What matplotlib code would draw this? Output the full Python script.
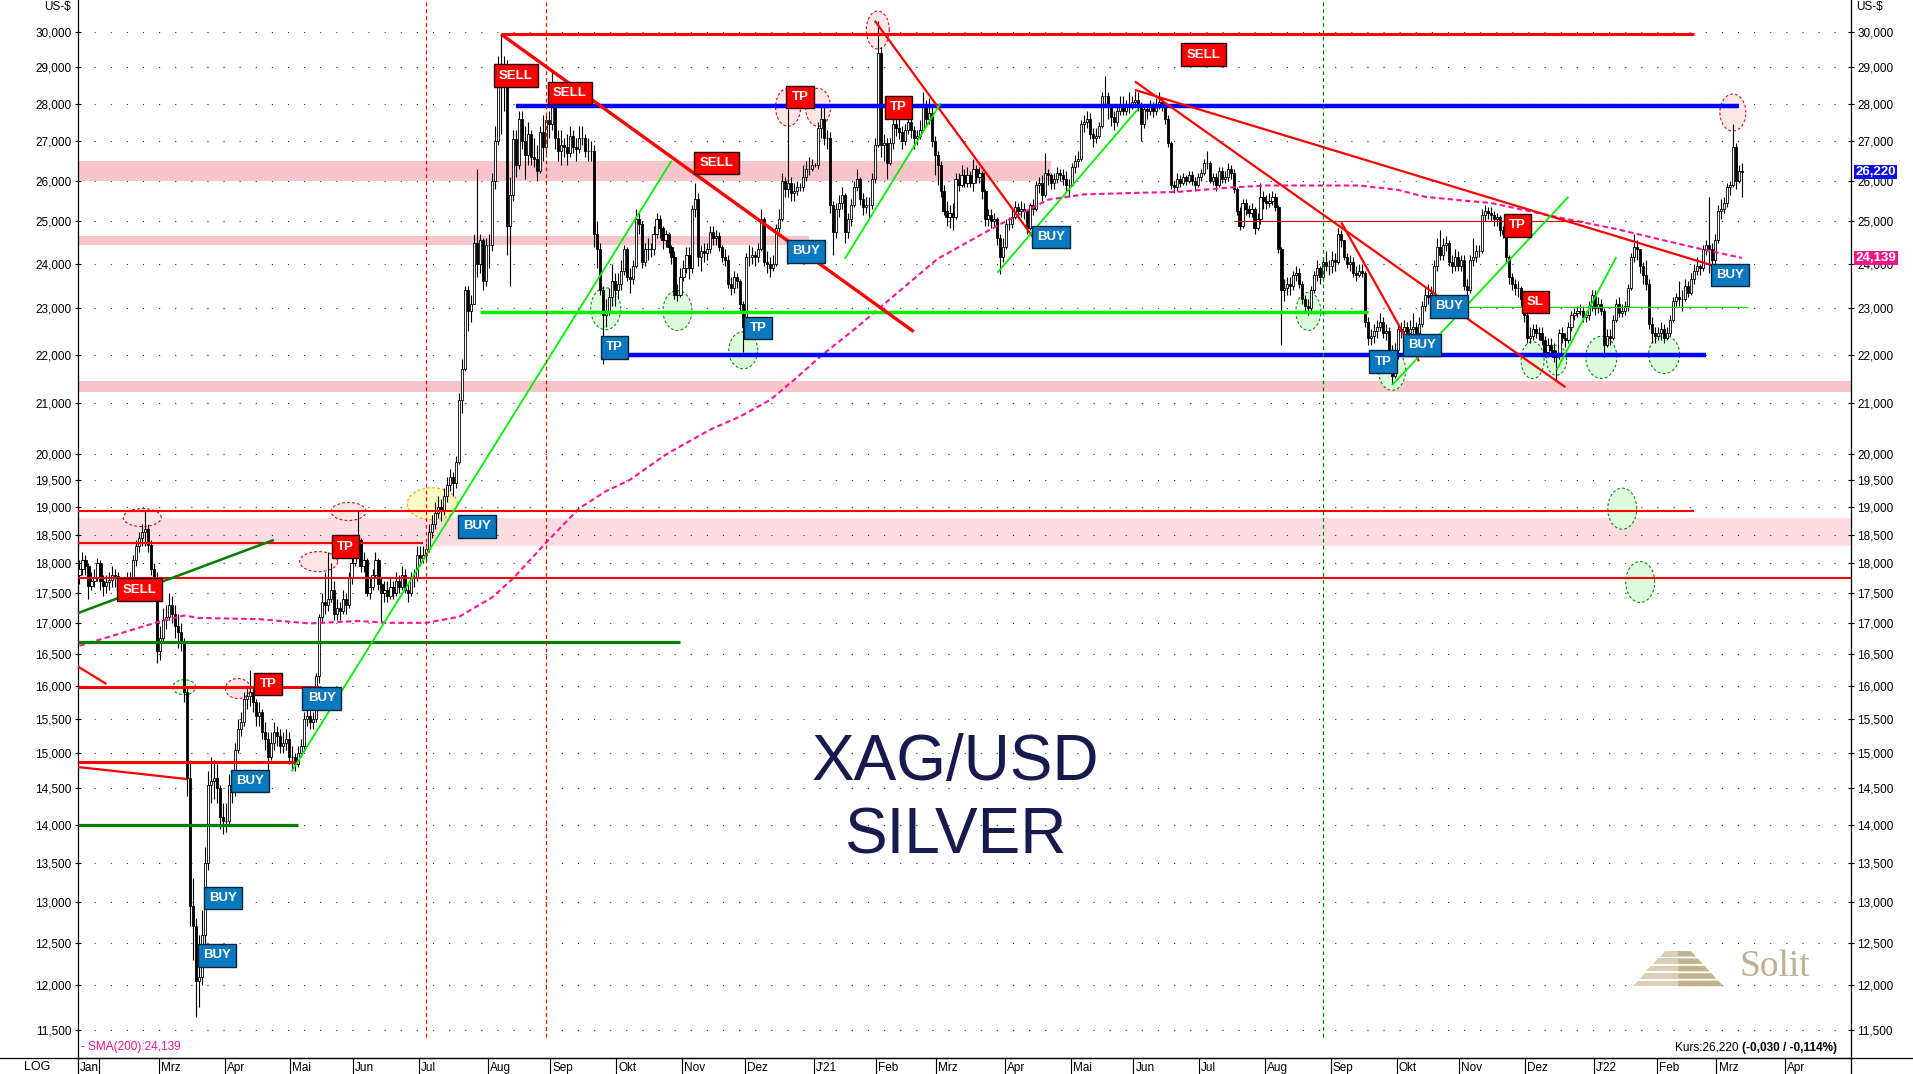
import numpy as np
import pandas as pd
import matplotlib
matplotlib.use("Agg")
import matplotlib.pyplot as plt
import matplotlib.transforms as mtransforms
from matplotlib.patches import Polygon
from matplotlib.lines import Line2D

plt.rcParams['font.family'] = ['Liberation Sans', 'DejaVu Sans']

# ---------------- data: daily XAG/USD (open = previous close) ----------------
first_day = '2020-01-23'
open_first = 17.80

close_2020 = [
    17.90, 18.05, 17.95, 17.62, 17.70, 17.75, 18.00,
    17.70, 17.62, 17.68, 17.72, 17.80, 17.78, 17.62, 17.58, 17.62, 17.72, 17.75, 18.05, 18.30, 18.45, 18.55, 18.60, 18.32, 17.90, 17.75, 16.55,
    16.75, 17.05, 17.10, 17.30, 17.15, 16.95, 16.85, 16.70, 15.90, 14.65, 12.95, 12.70, 12.05, 12.10, 12.60, 13.50, 14.55, 14.60, 14.65, 14.50, 14.10, 14.05,
    14.05, 14.55, 14.45, 15.05, 15.35, 15.45, 15.80, 15.85, 15.90, 15.75, 15.55, 15.60, 15.30, 15.20, 14.95, 15.15, 15.30, 15.25, 15.10, 15.15, 15.20, 14.95,
    14.95, 14.85, 15.00, 15.10, 15.50, 15.55, 15.45, 15.50, 16.15, 17.10, 17.35, 17.30, 17.40, 17.55, 17.15, 17.25, 17.20, 17.40, 17.30, 17.75, 18.00,
    18.35, 18.40, 17.95, 18.05, 17.50, 17.60, 17.80, 18.05, 17.65, 17.50, 17.55, 17.45, 17.60, 17.50, 17.70, 17.60, 17.80, 17.55, 17.50, 17.75, 17.75, 18.15,
    18.10, 18.15, 18.25, 18.55, 18.70, 18.90, 19.00, 18.95, 19.20, 19.40, 19.55, 19.45, 19.85, 21.05, 21.70, 23.40, 22.95, 23.10, 24.50, 24.00, 24.55, 23.60, 24.45,
    24.45, 26.00, 27.00, 28.95, 28.55, 28.75, 24.90, 25.65, 27.05, 26.40, 27.60, 27.00, 26.65, 27.20, 26.60, 26.55, 26.25, 27.25, 26.85, 27.55, 27.45,
    28.10, 27.10, 26.75, 26.90, 26.85, 26.70, 27.15, 26.85, 26.80, 27.10, 27.10, 26.75, 26.75, 26.75, 24.70, 24.35, 23.40, 22.85, 22.95, 23.25, 23.60, 23.40,
    23.55, 23.85, 24.35, 23.70, 23.65, 23.95, 25.05, 24.95, 24.05, 24.35, 24.35, 24.35, 24.70, 25.05, 24.85, 24.55, 24.70, 24.40, 24.15, 23.30, 23.30, 23.70,
    23.90, 24.20, 23.90, 25.30, 25.55, 24.15, 24.30, 24.25, 24.35, 24.75, 24.60, 24.65, 24.40, 24.15, 24.10, 23.55, 23.45, 23.70, 23.60, 23.10, 22.60,
    24.15, 24.15, 24.20, 24.15, 24.35, 25.05, 24.05, 24.00, 23.90, 24.00, 24.85, 25.05, 26.00, 25.80, 25.95, 25.70, 25.75, 25.85, 25.85, 26.10, 26.30, 26.30, 26.40,
]
high_2020 = [
    18.05, 18.20, 18.15, 18.00, 17.85, 17.90, 18.10,
    18.05, 17.80, 17.80, 17.85, 17.95, 17.90, 17.85, 17.70, 17.75, 17.85, 17.85, 18.15, 18.40, 18.55, 18.70, 18.92, 18.70, 18.40, 18.00, 17.85,
    16.95, 17.25, 17.30, 17.50, 17.45, 17.30, 17.15, 17.00, 16.75, 16.00, 14.90, 13.30, 12.80, 12.60, 12.90, 13.70, 14.75, 14.95, 14.90, 14.85, 14.55, 14.30,
    14.30, 14.70, 14.65, 15.15, 15.50, 15.60, 15.90, 16.00, 16.25, 16.00, 15.80, 15.75, 15.65, 15.45, 15.30, 15.30, 15.45, 15.40, 15.35, 15.30, 15.35, 15.30,
    15.10, 15.00, 15.10, 15.20, 15.60, 15.70, 15.65, 15.60, 16.20, 17.15, 17.50, 17.85, 18.20, 18.00, 17.70, 17.40, 17.35, 17.55, 17.50, 17.85, 18.30,
    18.50, 18.94, 18.45, 18.20, 18.10, 17.75, 17.90, 18.20, 18.10, 17.75, 17.70, 17.70, 17.75, 17.70, 17.85, 17.80, 17.95, 17.90, 17.65, 17.85, 17.90, 18.30,
    18.30, 18.30, 18.35, 18.70, 18.85, 19.10, 19.20, 19.15, 19.35, 19.55, 19.70, 19.65, 19.95, 21.20, 21.90, 23.50, 23.50, 23.30, 24.70, 26.30, 24.70, 24.60, 24.60,
    24.70, 26.20, 27.40, 29.30, 29.93, 29.30, 29.20, 26.10, 27.30, 27.30, 27.80, 27.80, 27.40, 27.50, 27.30, 27.10, 26.90, 27.40, 27.70, 27.70, 27.80,
    28.90, 28.20, 27.30, 27.30, 27.10, 27.20, 27.40, 27.30, 27.10, 27.40, 27.40, 27.20, 27.10, 27.00, 26.90, 25.00, 24.50, 23.50, 23.20, 23.45, 24.00, 23.80,
    23.80, 24.10, 24.45, 24.40, 23.90, 24.10, 25.30, 25.25, 25.00, 24.50, 24.60, 24.50, 24.90, 25.20, 25.15, 24.90, 24.80, 24.75, 24.45, 24.30, 23.55, 23.90,
    24.10, 24.40, 24.40, 25.40, 25.95, 25.70, 24.45, 24.50, 24.50, 24.90, 24.90, 24.80, 24.75, 24.45, 24.35, 24.20, 23.70, 23.85, 23.80, 23.65, 23.15,
    24.25, 24.45, 24.40, 24.30, 24.50, 25.30, 25.10, 24.30, 24.15, 24.20, 24.95, 25.30, 26.20, 26.10, 27.85, 26.10, 25.95, 26.00, 25.95, 26.40, 26.50, 26.60, 26.55,
]
low_2020 = [
    17.65, 17.80, 17.80, 17.40, 17.55, 17.60, 17.70,
    17.55, 17.45, 17.50, 17.55, 17.60, 17.60, 17.50, 17.45, 17.45, 17.55, 17.60, 17.70, 17.95, 18.20, 18.30, 18.30, 18.20, 17.80, 17.55, 16.35,
    16.40, 16.70, 16.90, 17.05, 17.00, 16.75, 16.60, 16.55, 15.75, 14.40, 12.70, 12.30, 11.64, 11.75, 12.00, 12.45, 13.40, 14.30, 14.35, 14.30, 13.95, 13.88,
    13.90, 14.00, 14.30, 14.40, 15.00, 15.25, 15.40, 15.65, 15.70, 15.60, 15.40, 15.40, 15.20, 15.05, 14.75, 14.90, 15.05, 15.10, 15.00, 15.00, 15.05, 14.85,
    14.75, 14.75, 14.80, 14.95, 15.05, 15.40, 15.35, 15.35, 15.45, 16.05, 17.00, 17.15, 17.20, 17.35, 17.05, 17.05, 17.05, 17.15, 17.15, 17.25, 17.65,
    17.95, 18.20, 17.85, 17.85, 17.45, 17.40, 17.55, 17.75, 17.55, 17.00, 17.35, 17.35, 17.40, 17.40, 17.45, 17.50, 17.55, 17.50, 17.35, 17.45, 17.60, 17.70,
    17.95, 18.00, 18.05, 18.20, 18.45, 18.60, 18.80, 18.75, 18.85, 19.10, 19.30, 19.20, 19.35, 19.80, 20.80, 21.65, 22.50, 22.70, 23.10, 23.70, 23.80, 23.40, 23.50,
    23.90, 24.30, 25.80, 26.90, 27.20, 27.80, 24.20, 23.50, 25.50, 26.10, 26.30, 26.80, 26.05, 26.40, 26.40, 26.35, 26.00, 26.20, 26.50, 26.70, 27.10,
    27.30, 26.80, 26.50, 26.40, 26.60, 26.40, 26.60, 26.70, 26.50, 26.70, 26.90, 26.60, 26.50, 26.50, 24.40, 23.90, 23.30, 21.80, 22.60, 22.85, 23.05, 23.05,
    23.20, 23.40, 23.75, 23.60, 23.35, 23.55, 23.90, 24.70, 23.90, 23.95, 24.10, 24.15, 24.20, 24.60, 24.60, 24.35, 24.40, 24.25, 24.00, 23.20, 23.15, 23.25,
    23.60, 23.80, 23.65, 23.80, 25.10, 23.95, 23.85, 24.05, 24.10, 24.25, 24.45, 24.45, 24.30, 24.05, 23.95, 23.45, 23.30, 23.35, 23.45, 22.95, 22.05,
    22.50, 23.95, 24.00, 23.95, 24.05, 24.30, 23.95, 23.80, 23.70, 23.85, 23.95, 24.75, 25.00, 25.60, 25.60, 25.50, 25.50, 25.65, 25.75, 25.75, 26.00, 26.15, 26.25,
]
close_2021 = [
    26.40, 27.35, 27.60, 27.10, 27.10, 25.40, 24.75, 25.30, 25.45, 25.65, 24.75, 25.05, 25.40, 25.85, 26.05, 25.55, 25.35, 25.40, 25.40, 26.05, 26.90,
    29.40, 26.90, 26.95, 26.45, 26.95, 27.45, 27.35, 27.25, 27.00, 27.30, 27.50, 27.30, 27.10, 27.15, 27.30, 28.00, 27.60, 27.75, 27.00, 26.65,
    26.40, 25.75, 25.25, 25.10, 25.20, 25.10, 26.05, 25.90, 26.15, 25.95, 26.15, 25.95, 26.30, 26.10, 26.20, 25.75, 25.05, 25.15, 25.00, 25.05, 24.60, 24.15, 24.40,
    24.95, 24.95, 25.10, 25.35, 25.25, 25.30, 25.25, 24.85, 25.40, 25.30, 25.90, 25.95, 25.65, 26.20, 26.15, 25.95, 26.05, 26.20, 26.15, 26.05, 25.90, 25.90,
    26.35, 26.50, 26.55, 27.45, 27.50, 27.60, 27.20, 27.10, 27.15, 27.40, 28.20, 28.20, 27.90, 27.65, 27.50, 27.80, 28.00, 27.80, 27.95, 27.95, 28.05,
    28.10, 27.95, 27.45, 27.85, 27.80, 27.95, 27.80, 28.00, 28.05, 27.95, 27.60, 26.95, 25.90, 25.85, 26.05, 25.95, 26.10, 26.00, 26.15, 26.00, 25.90, 26.10,
    26.20, 26.45, 26.45, 26.00, 26.10, 25.90, 26.25, 26.05, 26.10, 26.30, 26.20, 25.80, 25.25, 24.90, 25.45, 25.30, 25.20, 25.30, 24.85, 25.05, 25.60, 25.50,
    25.45, 25.50, 25.60, 25.35, 24.35, 23.40, 23.45, 23.55, 23.50, 23.75, 23.80, 23.55, 23.20, 23.05, 23.00, 23.40, 23.75, 23.90, 23.70, 24.05, 23.95, 23.95,
    24.10, 24.05, 24.70, 24.55, 24.15, 24.00, 24.05, 23.80, 23.75, 23.85, 23.80, 22.70, 22.35, 22.40, 22.50, 22.60, 22.70, 22.45, 22.50, 22.10, 21.55, 22.10,
    22.55, 22.50, 22.60, 22.45, 22.55, 22.60, 22.45, 22.65, 23.05, 23.30, 23.25, 23.35, 23.95, 24.40, 24.20, 24.45, 24.50, 24.05, 23.95, 24.15, 23.95,
    24.10, 23.50, 23.40, 24.10, 24.15, 24.30, 24.30, 25.15, 25.25, 25.20, 25.15, 25.05, 25.10, 24.80, 24.70, 24.15, 23.70, 23.55, 23.45, 23.45, 23.20, 22.85,
    22.35, 22.40, 22.55, 22.45, 22.45, 22.30, 22.05, 22.20, 22.10, 21.95, 22.00, 22.45, 22.35, 22.30, 22.60, 22.85, 22.90, 22.95, 22.95, 22.80, 22.85, 23.05, 23.30,
]
high_2021 = [
    26.45, 27.50, 27.90, 27.95, 27.30, 27.25, 25.50, 25.45, 25.65, 25.85, 25.70, 25.20, 25.55, 26.00, 26.30, 26.10, 25.70, 25.60, 25.60, 26.20, 27.10,
    30.30, 29.55, 27.20, 27.10, 27.10, 27.60, 27.70, 27.60, 27.40, 27.45, 27.75, 27.65, 27.40, 27.30, 27.55, 28.30, 28.10, 28.15, 28.00, 27.15,
    26.75, 26.50, 25.90, 25.50, 25.40, 25.45, 26.20, 26.20, 26.40, 26.30, 26.35, 26.25, 26.55, 26.40, 26.35, 26.25, 25.80, 25.30, 25.30, 25.20, 25.10, 24.70, 24.60,
    25.05, 25.10, 25.30, 25.50, 25.45, 25.50, 25.45, 25.30, 25.45, 25.55, 26.00, 26.10, 26.15, 26.70, 26.30, 26.20, 26.20, 26.35, 26.30, 26.30, 26.25, 26.05,
    26.45, 26.65, 26.75, 27.55, 27.70, 27.80, 27.75, 27.35, 27.35, 27.50, 28.30, 28.75, 28.30, 28.00, 27.80, 27.95, 28.20, 28.20, 28.10, 28.30, 28.20,
    28.35, 28.30, 28.05, 27.95, 28.00, 28.10, 28.05, 28.15, 28.30, 28.15, 28.00, 27.70, 27.00, 26.00, 26.20, 26.15, 26.20, 26.15, 26.25, 26.25, 26.10, 26.20,
    26.30, 26.55, 26.75, 26.50, 26.20, 26.20, 26.35, 26.35, 26.25, 26.45, 26.40, 26.30, 25.85, 25.35, 25.55, 25.55, 25.40, 25.45, 25.35, 25.20, 25.95, 25.75,
    25.65, 25.70, 25.75, 25.70, 25.40, 24.40, 23.65, 23.70, 23.70, 23.85, 23.95, 23.90, 23.60, 23.30, 23.20, 23.50, 23.85, 24.10, 23.95, 24.15, 24.30, 24.10,
    24.30, 24.25, 24.85, 24.80, 24.55, 24.25, 24.20, 24.15, 23.95, 24.00, 24.00, 23.85, 22.80, 22.55, 22.65, 22.75, 22.90, 22.80, 22.65, 22.60, 22.20, 22.25,
    22.65, 22.70, 22.75, 22.70, 22.75, 22.90, 22.70, 22.80, 23.15, 23.45, 23.55, 23.50, 24.10, 24.60, 24.80, 24.60, 24.65, 24.55, 24.20, 24.35, 24.30,
    24.20, 24.20, 23.65, 24.20, 24.60, 24.45, 24.45, 25.30, 25.40, 25.35, 25.35, 25.25, 25.20, 25.15, 24.90, 24.75, 24.20, 23.80, 23.65, 23.60, 23.50, 23.35,
    23.00, 22.60, 22.65, 22.65, 22.60, 22.60, 22.40, 22.35, 22.35, 22.25, 22.10, 22.55, 22.60, 22.45, 22.70, 22.95, 23.00, 23.05, 23.10, 23.05, 22.95, 23.15, 23.40,
]
low_2021 = [
    26.35, 26.30, 27.10, 26.90, 26.80, 25.20, 24.20, 24.60, 25.10, 25.30, 24.50, 24.60, 24.90, 25.35, 25.75, 25.40, 25.15, 25.20, 25.10, 25.30, 25.95,
    26.85, 26.60, 26.50, 26.05, 26.40, 26.80, 27.15, 27.05, 26.80, 26.90, 27.20, 27.10, 26.80, 26.90, 27.05, 27.25, 27.40, 27.45, 26.85, 26.15,
    25.90, 25.60, 25.15, 24.90, 24.85, 24.80, 25.05, 25.75, 25.85, 25.85, 25.85, 25.85, 25.75, 25.95, 25.95, 25.55, 24.90, 24.90, 24.85, 24.90, 24.45, 23.78, 24.05,
    24.35, 24.80, 24.85, 25.05, 25.10, 25.10, 25.05, 24.70, 24.80, 25.15, 25.25, 25.70, 25.50, 25.60, 25.90, 25.80, 25.80, 25.95, 26.00, 25.90, 25.75, 25.60,
    25.90, 26.20, 26.35, 26.50, 27.25, 27.35, 27.05, 26.85, 26.95, 27.10, 27.35, 27.90, 27.60, 27.40, 27.30, 27.40, 27.70, 27.70, 27.70, 27.75, 27.85,
    27.90, 27.80, 27.00, 27.35, 27.60, 27.70, 27.65, 27.70, 27.85, 27.80, 27.45, 26.85, 25.80, 25.70, 25.75, 25.85, 25.90, 25.90, 25.95, 25.90, 25.75, 25.85,
    26.00, 26.15, 26.30, 25.95, 25.90, 25.75, 25.85, 25.95, 25.95, 26.00, 26.05, 25.70, 25.15, 24.80, 24.85, 25.15, 25.10, 25.10, 24.70, 24.80, 24.95, 25.30,
    25.30, 25.35, 25.40, 25.25, 24.25, 22.20, 23.15, 23.30, 23.30, 23.40, 23.60, 23.45, 23.10, 22.95, 22.85, 22.95, 23.35, 23.60, 23.55, 23.60, 23.85, 23.75,
    23.80, 23.85, 24.00, 24.40, 24.10, 23.90, 23.85, 23.70, 23.60, 23.70, 23.70, 22.60, 22.20, 22.20, 22.25, 22.35, 22.50, 22.35, 22.30, 22.00, 21.40, 21.50,
    21.90, 22.35, 22.40, 22.30, 22.35, 22.40, 22.25, 22.40, 22.60, 22.95, 23.10, 23.10, 23.30, 23.85, 24.10, 24.10, 24.30, 23.95, 23.80, 23.85, 23.85,
    23.85, 23.40, 23.00, 23.35, 23.95, 24.05, 24.15, 24.25, 25.00, 25.05, 25.00, 24.90, 24.90, 24.65, 24.60, 24.05, 23.55, 23.40, 23.30, 23.25, 23.05, 22.70,
    22.25, 22.25, 22.30, 22.35, 22.30, 22.20, 21.95, 21.95, 22.00, 21.85, 21.45, 21.90, 22.25, 22.15, 22.25, 22.50, 22.75, 22.80, 22.85, 22.70, 22.70, 22.75, 22.95,
]
close_2022 = [
    23.00, 23.10, 22.95, 22.20, 22.40, 22.35, 22.75, 23.10, 22.90, 22.95, 23.05, 23.45, 24.15, 24.40, 24.35, 23.95, 23.75, 23.55, 22.65, 22.45, 22.40,
    22.45, 22.55, 22.35, 22.45, 22.75, 23.15, 23.25, 23.20, 23.20, 23.50, 23.35, 23.65, 23.85, 23.95, 23.90, 24.35, 24.45, 24.35, 24.10, 24.55,
    25.25, 25.30, 25.45, 25.85, 25.90, 26.85, 26.00, 26.25, 26.22,
]
high_2022 = [
    23.40, 23.25, 23.20, 23.00, 22.55, 22.55, 22.85, 23.20, 23.25, 23.10, 23.15, 23.55, 24.25, 24.70, 24.55, 24.30, 24.05, 24.10, 23.65, 22.80, 22.60,
    22.60, 22.70, 22.65, 22.60, 22.85, 23.25, 23.35, 23.60, 23.40, 23.65, 23.60, 23.80, 24.00, 24.15, 24.00, 24.45, 24.55, 25.60, 24.50, 24.70,
    25.40, 25.55, 25.60, 25.95, 26.00, 27.45, 26.95, 26.40, 26.45,
]
low_2022 = [
    22.85, 22.90, 22.85, 21.95, 22.15, 22.20, 22.30, 22.70, 22.80, 22.80, 22.85, 22.95, 23.40, 24.05, 24.10, 23.80, 23.55, 23.40, 22.55, 22.25, 22.25,
    22.30, 22.30, 22.25, 22.30, 22.40, 22.70, 23.05, 23.05, 22.95, 23.15, 23.25, 23.30, 23.55, 23.75, 23.75, 23.85, 24.20, 23.80, 23.90, 24.00,
    24.50, 25.05, 25.20, 25.35, 25.65, 25.85, 25.80, 25.95, 25.60,
]

# SMA(200)
sma_dates = ['2020-01-23', '2020-02-28', '2020-03-12', '2020-03-19', '2020-04-16', '2020-05-11', '2020-06-02',
             '2020-06-17', '2020-07-03', '2020-07-20', '2020-08-04', '2020-08-13', '2020-08-28', '2020-09-14',
             '2020-09-25', '2020-10-07', '2020-10-23', '2020-11-13', '2020-11-27', '2020-12-11', '2020-12-23',
             '2021-01-05', '2021-01-20', '2021-02-02', '2021-03-01', '2021-03-29', '2021-04-21', '2021-05-07',
             '2021-06-03', '2021-06-21', '2021-07-15', '2021-08-02', '2021-08-17', '2021-09-14', '2021-10-01',
             '2021-10-14', '2021-11-03', '2021-11-15', '2021-12-21', '2022-01-12', '2022-02-16', '2022-03-11']
sma_values = [16.63, 17.01, 17.12, 17.08, 17.06, 16.99, 17.03, 17.00, 17.00, 17.10, 17.42, 17.74, 18.36, 18.97,
              19.29, 19.50, 19.98, 20.47, 20.73, 21.06, 21.47, 21.97, 22.53, 23.03, 24.12, 24.90, 25.53, 25.66,
              25.70, 25.72, 25.83, 25.88, 25.88, 25.88, 25.77, 25.60, 25.50, 25.45, 25.05, 24.82, 24.40, 24.14]

last_price = 26.220
sma_last = 24.139

y_ticks = [11.5, 12, 12.5, 13, 13.5, 14, 14.5, 15, 15.5, 16, 16.5, 17, 17.5, 18, 18.5, 19, 19.5,
           20, 21, 22, 23, 24, 25, 26, 27, 28, 29, 30]
month_names = ['Jan', 'Feb', 'Mrz', 'Apr', 'Mai', 'Jun', 'Jul', 'Aug', 'Sep', 'Okt', 'Nov', 'Dez']

# annotation levels: (price, start, end) ; None = chart edge
red_levels_thick = [(29.93, '2020-08-07', '2022-02-17'), (15.98, None, '2020-05-14'), (14.87, None, '2020-05-04')]
red_levels = [(18.92, None, '2022-02-17'), (18.35, None, '2020-07-02'), (17.74, None, None)]
red_levels_thin = [(25.0, '2021-07-16', '2021-12-28')]
blue_levels = [(27.93, '2020-08-14', '2022-03-10'), (22.0, '2020-09-24', '2022-02-23')]
lime_levels = [(22.91, '2020-07-29', '2021-09-17')]
lime_levels_thin = [(23.03, '2021-11-03', '2022-03-15')]
dkgreen_levels = [(16.69, None, '2020-10-30'), (14.0, None, '2020-05-05')]
pink_bands = [(26.0, 26.5, None, '2021-04-22'), (24.43, 24.66, None, '2020-12-30'),
              (21.22, 21.44, None, None)]
pink_bands_light = [(18.31, 18.81, None, None)]

red_trends_thick = [('2020-08-07', 29.93, '2021-02-17', 22.49)]
red_trends = [('2021-01-29', 30.32, '2021-04-14', 24.62), ('2021-06-01', 28.37, '2022-02-25', 23.97),
              ('2021-06-01', 28.60, '2021-10-20', 23.29), ('2021-11-03', 22.78, '2021-12-20', 21.32),
              ('2021-09-06', 24.98, '2021-10-12', 21.86), (None, 16.30, '2020-02-05', 16.03),
              (None, 14.80, '2020-03-13', 14.63)]
lime_trends = [('2020-05-01', 14.74, '2020-10-27', 26.50), ('2021-01-15', 24.12, '2021-03-02', 28.01),
               ('2021-03-29', 23.80, '2021-06-02', 27.85), ('2021-09-29', 21.36, '2021-12-21', 25.60),
               ('2021-12-15', 21.67, '2022-01-12', 24.16)]
dkgreen_trends = [(None, 17.16, '2020-04-23', 18.41)]

red_vlines = ['2020-07-03', '2020-08-28']
green_vlines = ['2021-08-27']
vline_bottom = 11.42

red_marks = [('2020-02-21', 18.81, 38, 18), ('2020-05-28', 18.92, 35, 18), ('2020-05-14', 18.03, 38, 20),
             ('2020-04-07', 15.96, 25, 20), ('2021-02-01', 30.05, 23, 38), ('2020-12-21', 27.90, 25, 38),
             ('2021-01-04', 27.90, 25, 38), ('2022-03-08', 27.76, 26, 37)]
green_marks = [('2020-03-12', 15.98, 23, 15), ('2020-09-25', 22.99, 30, 42), ('2020-10-29', 22.95, 29, 40),
               ('2020-11-30', 22.09, 29, 37), ('2021-08-20', 22.93, 25, 38), ('2021-09-29', 21.67, 27, 40),
               ('2021-12-03', 21.88, 23, 37), ('2021-12-15', 21.88, 20, 30), ('2022-01-05', 21.94, 31, 42),
               ('2022-02-03', 22.00, 31, 38), ('2022-01-14', 18.97, 29, 41), ('2022-01-24', 17.68, 29, 41)]
yellow_marks = [('2020-07-07', 19.06, 50, 32)]

red_tags = [('2020-08-14', 28.76, 'SELL'), ('2020-09-09', 28.28, 'SELL'), ('2020-11-17', 26.44, 'SELL'),
            ('2020-02-20', 17.55, 'SELL'), ('2021-07-02', 29.35, 'SELL'), ('2020-12-25', 28.18, 'TP'),
            ('2021-02-10', 27.90, 'TP'), ('2020-05-27', 18.29, 'TP'), ('2020-04-21', 16.03, 'TP'),
            ('2021-11-26', 24.91, 'TP'), ('2021-12-06', 23.14, 'SL')]
blue_tags = [('2020-12-29', 24.29, 'BUY'), ('2021-04-22', 24.63, 'BUY'), ('2020-07-28', 18.65, 'BUY'),
             ('2020-05-15', 15.81, 'BUY'), ('2020-04-13', 14.60, 'BUY'), ('2020-03-31', 13.05, 'BUY'),
             ('2020-03-27', 12.35, 'BUY'), ('2020-09-30', 22.15, 'TP'), ('2020-12-07', 22.57, 'TP'),
             ('2021-09-24', 21.85, 'TP'), ('2021-10-26', 23.04, 'BUY'), ('2021-10-13', 22.20, 'BUY'),
             ('2022-03-07', 23.75, 'BUY')]

# ---------------- figure ----------------
W, H = 1913, 1074
fig = plt.figure(figsize=(W / 100, H / 100), dpi=100)
left_px, right_px, bottom_px = 78, 1851, 1058
axl, axr, axb = left_px / W, right_px / W, (H - bottom_px) / H
ax = fig.add_axes([axl, axb, axr - axl, 1 - axb])
ax.set_facecolor('white')

close = np.array(close_2020 + close_2021 + close_2022)
high = np.array(high_2020 + high_2021 + high_2022)
low = np.array(low_2020 + low_2021 + low_2022)
n = min(len(close), len(high), len(low))
close, high, low = close[:n], high[:n], low[:n]
opn = np.r_[open_first, close[:-1]]
cal = pd.bdate_range(first_day, '2022-12-30')


def X(s):
    return int(cal.searchsorted(pd.Timestamp(s)))


xmin, xmax = -0.5, X('2022-05-04') - 1.5
ymin, ymax = 11.19, 30.93
ax.set_xlim(xmin, xmax)
ax.set_yscale('log')
ax.set_ylim(ymin, ymax)

ax_w = (right_px - left_px)
ax_h = bottom_px
ppx = ax_w / (xmax - xmin)
ppl = ax_h / (np.log(ymax) - np.log(ymin))


def xs(s, default):
    return default if s is None else X(s)


# bands
for lo, hi, s, e in pink_bands:
    ax.fill_between([xs(s, xmin), xs(e, xmax)], lo, hi, color='#f8c5cb', lw=0, zorder=0.5)
for lo, hi, s, e in pink_bands_light:
    ax.fill_between([xs(s, xmin), xs(e, xmax)], lo, hi, color='#fddde1', lw=0, zorder=0.5)

# grid
ax.set_yticks(y_ticks)
ax.yaxis.set_minor_locator(matplotlib.ticker.NullLocator())
ax.set_yticklabels([f"{v:.3f}".replace('.', ',') for v in y_ticks])
ax.grid(axis='y', color='#333333', lw=0.8, ls=(0, (1, 13.5)), zorder=0.8)
ax.set_axisbelow(True)


# ellipses (marks)
def mark(date, price, wpx, hpx, fc, ec):
    t = np.linspace(0, 2 * np.pi, 90)
    px = X(date) + (wpx / 2 / ppx) * np.cos(t)
    py = price * np.exp((hpx / 2 / ppl) * np.sin(t))
    ax.add_patch(Polygon(np.c_[px, py], closed=True, fc=fc, ec=ec, lw=0.8, ls=(0, (2.5, 2)), zorder=2.5))


for d, p, w, h in red_marks:
    mark(d, p, w, h, '#fde6e6', '#cc1111')
for d, p, w, h in green_marks:
    mark(d, p, w, h, '#dcfcdc', '#118811')
for d, p, w, h in yellow_marks:
    mark(d, p, w, h, '#fdfac4', '#f5a000')

# candles
x = np.arange(n)
up = close >= opn
lo_b = np.minimum(opn, close)
hi_b = np.maximum(opn, close)
ax.vlines(x, low, high, color='black', lw=0.8, zorder=3)
ax.bar(x[up], (hi_b - lo_b)[up], bottom=lo_b[up], width=0.72, color='white', edgecolor='black', lw=0.6, zorder=3.5)
ax.bar(x[~up], (hi_b - lo_b)[~up], bottom=lo_b[~up], width=0.72, color='black', edgecolor='black', lw=0.6, zorder=3.5)

# SMA
ax.plot([X(d) for d in sma_dates], sma_values, color='#ff1493', lw=1.5, ls=(0, (2.6, 1.6)), zorder=4.5)


def hl(levels, color, lw):
    for p, s, e in levels:
        ax.plot([xs(s, xmin), xs(e, xmax)], [p, p], color=color, lw=lw, solid_capstyle='butt', zorder=5)


hl(red_levels_thick, '#ff0000', 2.2)
hl(red_levels, '#ff0000', 1.5)
hl(red_levels_thin, '#dd0000', 0.8)
hl(blue_levels, '#0000ff', 3.2)
hl(lime_levels, '#00f000', 2.5)
hl(lime_levels_thin, '#00e000', 0.9)
hl(dkgreen_levels, '#007f00', 2.3)


def tl(lines, color, lw):
    for s, p0, e, p1 in lines:
        ax.plot([xs(s, xmin), xs(e, xmax)], [p0, p1], color=color, lw=lw, solid_capstyle='butt', zorder=5)


tl(red_trends_thick, '#ff0000', 2.4)
tl(red_trends, '#ff0000', 1.6)
tl(lime_trends, '#00f000', 1.3)
tl(dkgreen_trends, '#007f00', 1.8)

for d in red_vlines:
    ax.plot([X(d), X(d)], [vline_bottom, ymax], color='#ff0000', lw=0.9, ls=(0, (3, 2.5)), zorder=5)
for d in green_vlines:
    ax.plot([X(d), X(d)], [vline_bottom, ymax], color='#008800', lw=0.9, ls=(0, (3, 2.5)), zorder=5)

# tags
for d, p, t in red_tags:
    ax.text(X(d), p, t, ha='center', va='center', color='white', fontsize=9.5, fontweight='bold', zorder=8,
            bbox=dict(boxstyle='square,pad=0.4', fc='#ff0000', ec='#2a0000', lw=1.0))
for d, p, t in blue_tags:
    ax.text(X(d), p, t, ha='center', va='center', color='white', fontsize=9.5, fontweight='bold', zorder=8,
            bbox=dict(boxstyle='square,pad=0.4', fc='#0a78be', ec='#05263a', lw=1.0))

# axes styling
for sp in ['top']:
    ax.spines[sp].set_visible(False)
for sp in ['left', 'right', 'bottom']:
    ax.spines[sp].set_linewidth(0.9)
    ax.spines[sp].set_color('black')
ax.tick_params(axis='y', which='major', left=True, right=True, labelleft=True, labelright=True,
               direction='inout', length=5, width=0.8, pad=2, labelsize=8.5, colors='black')

# x ticks (month starts)
months = pd.date_range('2020-02-01', '2022-04-01', freq='MS')
tick_pos = [X(m) - 0.5 for m in months]
ax.set_xticks(tick_pos)
ax.tick_params(axis='x', direction='out', length=11.5, width=0.8, labelbottom=False)
blend = mtransforms.blended_transform_factory(ax.transData, ax.transAxes)
ax.text(xmin + 0.6, -0.0035, 'Jan', transform=blend, ha='left', va='top', fontsize=8.5, clip_on=False)
for m, tp in zip(months, tick_pos):
    if m.year == 2020 and m.month == 2:
        continue
    lab = month_names[m.month - 1] if m.month != 1 else "J'" + str(m.year)[2:]
    ax.text(tp + 0.7, -0.0035, lab, transform=blend, ha='left', va='top', fontsize=8.5, clip_on=False)

# frame extensions
fig.add_artist(Line2D([0, 1], [axb, axb], transform=fig.transFigure, color='black', lw=0.9))
fig.add_artist(Line2D([axl, axl], [0, axb], transform=fig.transFigure, color='black', lw=0.9))
fig.add_artist(Line2D([axr, axr], [0, axb], transform=fig.transFigure, color='black', lw=0.9))

# right-side value boxes
yblend = mtransforms.blended_transform_factory(ax.transAxes, ax.transData)
ax.text(1.0025, last_price, f"{last_price:.3f}".replace('.', ','), transform=yblend, ha='left', va='center',
        color='white', fontsize=9.5, fontweight='bold', zorder=10, clip_on=False,
        bbox=dict(boxstyle='square,pad=0.1', fc='#1010e6', ec='none'))
ax.text(1.0025, sma_last, f"{sma_last:.3f}".replace('.', ','), transform=yblend, ha='left', va='center',
        color='white', fontsize=9.5, fontweight='bold', zorder=10, clip_on=False,
        bbox=dict(boxstyle='square,pad=0.1', fc='#f0168c', ec='none'))

# texts
fig.text(71 / W, 1 - 7 / H, 'US-$', ha='right', va='center', fontsize=8.5)
fig.text(1856 / W, 1 - 7 / H, 'US-$', ha='left', va='center', fontsize=8.5)
fig.text(24 / W, 1 - 1067 / H, 'LOG', ha='left', va='center', fontsize=9)
fig.text(81 / W, 1 - 1047 / H, '- SMA(200):' + f"{sma_last:.3f}".replace('.', ','), ha='left', va='center',
         fontsize=8.5, color='#f0168c')
bold_t = fig.text(1837 / W, 1 - 1048 / H, '(-0,030 / -0,114%)', ha='right', va='center', fontsize=8.5,
                  fontweight='bold')
fig.texts.append(matplotlib.text.Annotation('Kurs:' + f"{last_price:.3f}".replace('.', ',') + ' ',
                                            xy=(0, 0.5), xycoords=bold_t, ha='right', va='center', fontsize=8.5))
fig.texts[-1].set_figure(fig)

fig.text(955 / W, 1 - 763 / H, 'XAG/USD', ha='center', va='center', fontsize=46, color='#161a4d')
fig.text(955 / W, 1 - 836 / H, 'SILVER', ha='center', va='center', fontsize=46, color='#161a4d')

# Solit logo
fig.text(1739 / W, 1 - 967 / H, 'Solit', ha='left', va='center', fontsize=27, color='#bdb091',
         family=['Liberation Serif', 'DejaVu Serif'])
cx = 1678
for i in range(5):
    top = 951 + i * 7.4
    bot = top + 5.6
    wt = 13 + i * 6.8
    wb = wt + 5
    lp = [(cx - wt, top), (cx, top), (cx, bot), (cx - wb, bot)]
    rp = [(cx, top), (cx + wt, top), (cx + wb, bot), (cx, bot)]
    for pts, col in ((lp, '#dacfb5'), (rp, '#c3b491')):
        fig.add_artist(Polygon([(px / W, 1 - py / H) for px, py in pts], closed=True,
                               transform=fig.transFigure, fc=col, ec='none'))

fig.savefig('out.png', dpi=100)
